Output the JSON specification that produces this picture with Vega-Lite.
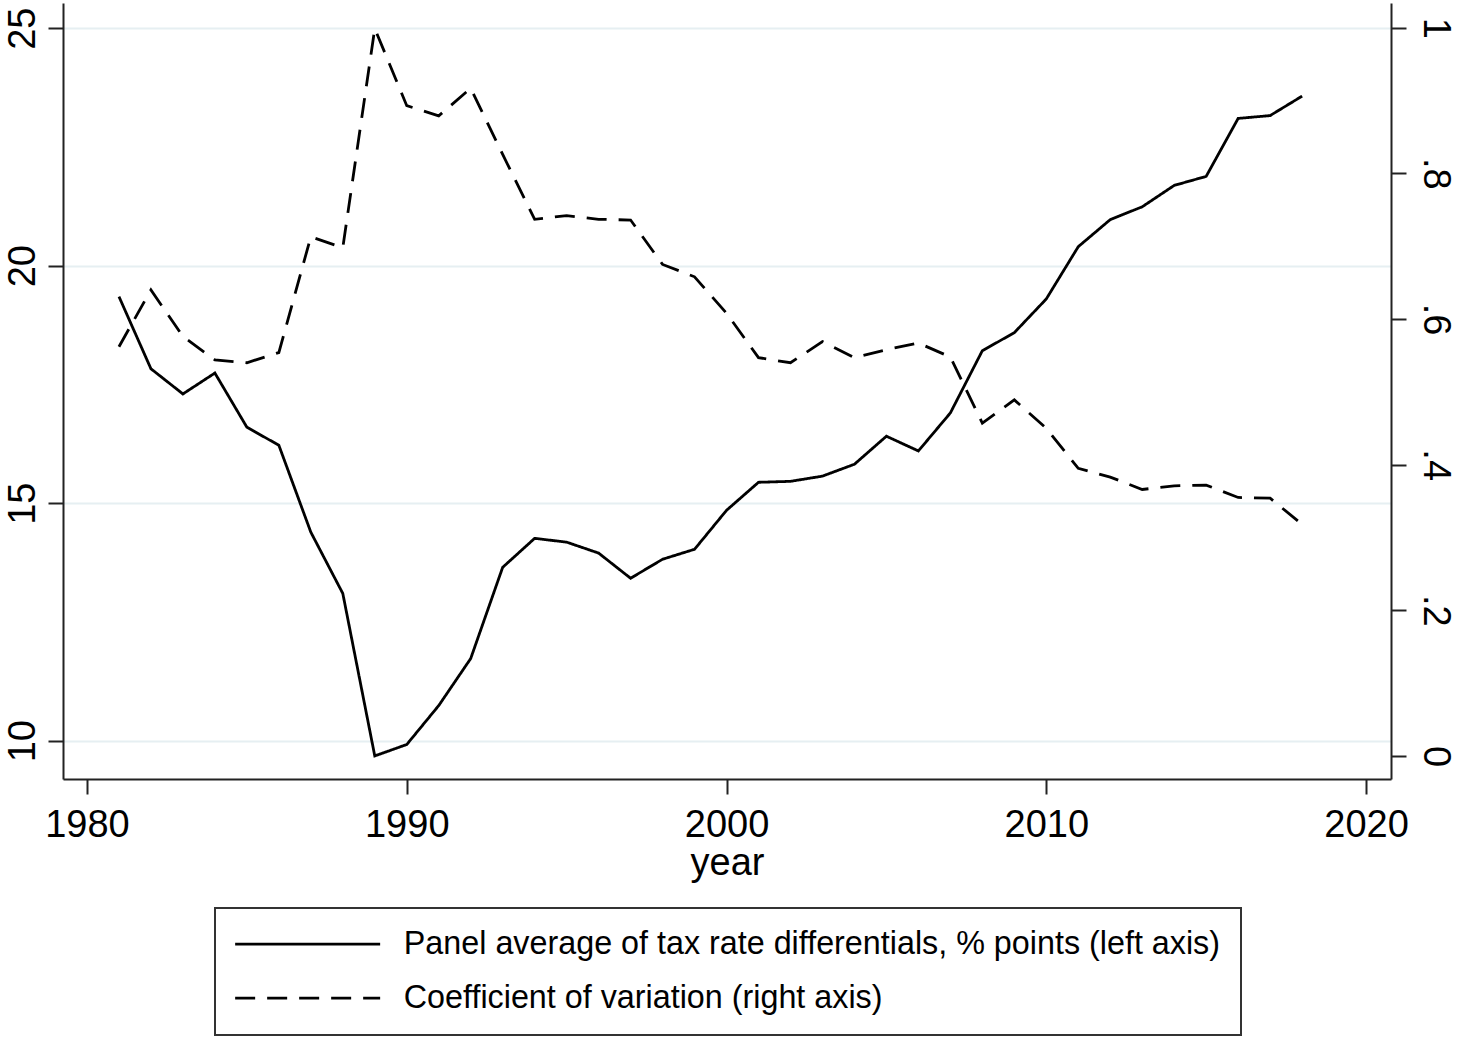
{
  "$schema": "https://vega.github.io/schema/vega-lite/v6.json",
  "width": 1328,
  "height": 776,
  "autosize": {"type": "none"},
  "padding": {"left": 63, "top": 3, "right": 67, "bottom": 259},
  "background": "white",
  "config": {
    "view": {"stroke": null},
    "font": "Liberation Sans",
    "axis": {
      "domainColor": "#222222",
      "domainWidth": 2,
      "tickColor": "#222222",
      "tickWidth": 2,
      "tickSize": 15,
      "labelColor": "black",
      "labelFontSize": 38,
      "labelFont": "Liberation Sans",
      "titleFont": "Liberation Sans",
      "titleFontWeight": "normal",
      "titleColor": "black"
    },
    "legend": {
      "strokeColor": "#333333",
      "strokeWidth": 2
    }
  },
  "data": {
    "values": [
      {"year": 1981, "series": "Panel average of tax rate differentials, % points (left axis)", "value": 19.35},
      {"year": 1982, "series": "Panel average of tax rate differentials, % points (left axis)", "value": 17.83},
      {"year": 1983, "series": "Panel average of tax rate differentials, % points (left axis)", "value": 17.30},
      {"year": 1984, "series": "Panel average of tax rate differentials, % points (left axis)", "value": 17.74},
      {"year": 1985, "series": "Panel average of tax rate differentials, % points (left axis)", "value": 16.60},
      {"year": 1986, "series": "Panel average of tax rate differentials, % points (left axis)", "value": 16.22},
      {"year": 1987, "series": "Panel average of tax rate differentials, % points (left axis)", "value": 14.39},
      {"year": 1988, "series": "Panel average of tax rate differentials, % points (left axis)", "value": 13.10},
      {"year": 1989, "series": "Panel average of tax rate differentials, % points (left axis)", "value": 9.68},
      {"year": 1990, "series": "Panel average of tax rate differentials, % points (left axis)", "value": 9.92},
      {"year": 1991, "series": "Panel average of tax rate differentials, % points (left axis)", "value": 10.74},
      {"year": 1992, "series": "Panel average of tax rate differentials, % points (left axis)", "value": 11.73},
      {"year": 1993, "series": "Panel average of tax rate differentials, % points (left axis)", "value": 13.65},
      {"year": 1994, "series": "Panel average of tax rate differentials, % points (left axis)", "value": 14.26},
      {"year": 1995, "series": "Panel average of tax rate differentials, % points (left axis)", "value": 14.18},
      {"year": 1996, "series": "Panel average of tax rate differentials, % points (left axis)", "value": 13.95},
      {"year": 1997, "series": "Panel average of tax rate differentials, % points (left axis)", "value": 13.42},
      {"year": 1998, "series": "Panel average of tax rate differentials, % points (left axis)", "value": 13.82},
      {"year": 1999, "series": "Panel average of tax rate differentials, % points (left axis)", "value": 14.03},
      {"year": 2000, "series": "Panel average of tax rate differentials, % points (left axis)", "value": 14.85},
      {"year": 2001, "series": "Panel average of tax rate differentials, % points (left axis)", "value": 15.44},
      {"year": 2002, "series": "Panel average of tax rate differentials, % points (left axis)", "value": 15.46},
      {"year": 2003, "series": "Panel average of tax rate differentials, % points (left axis)", "value": 15.57},
      {"year": 2004, "series": "Panel average of tax rate differentials, % points (left axis)", "value": 15.82},
      {"year": 2005, "series": "Panel average of tax rate differentials, % points (left axis)", "value": 16.41},
      {"year": 2006, "series": "Panel average of tax rate differentials, % points (left axis)", "value": 16.10},
      {"year": 2007, "series": "Panel average of tax rate differentials, % points (left axis)", "value": 16.90},
      {"year": 2008, "series": "Panel average of tax rate differentials, % points (left axis)", "value": 18.21},
      {"year": 2009, "series": "Panel average of tax rate differentials, % points (left axis)", "value": 18.59},
      {"year": 2010, "series": "Panel average of tax rate differentials, % points (left axis)", "value": 19.30},
      {"year": 2011, "series": "Panel average of tax rate differentials, % points (left axis)", "value": 20.40},
      {"year": 2012, "series": "Panel average of tax rate differentials, % points (left axis)", "value": 20.97},
      {"year": 2013, "series": "Panel average of tax rate differentials, % points (left axis)", "value": 21.24},
      {"year": 2014, "series": "Panel average of tax rate differentials, % points (left axis)", "value": 21.69},
      {"year": 2015, "series": "Panel average of tax rate differentials, % points (left axis)", "value": 21.88},
      {"year": 2016, "series": "Panel average of tax rate differentials, % points (left axis)", "value": 23.10},
      {"year": 2017, "series": "Panel average of tax rate differentials, % points (left axis)", "value": 23.16},
      {"year": 2018, "series": "Panel average of tax rate differentials, % points (left axis)", "value": 23.57},
      {"year": 1981, "series": "Coefficient of variation (right axis)", "value": 0.562},
      {"year": 1982, "series": "Coefficient of variation (right axis)", "value": 0.640},
      {"year": 1983, "series": "Coefficient of variation (right axis)", "value": 0.576},
      {"year": 1984, "series": "Coefficient of variation (right axis)", "value": 0.544},
      {"year": 1985, "series": "Coefficient of variation (right axis)", "value": 0.540},
      {"year": 1986, "series": "Coefficient of variation (right axis)", "value": 0.554},
      {"year": 1987, "series": "Coefficient of variation (right axis)", "value": 0.713},
      {"year": 1988, "series": "Coefficient of variation (right axis)", "value": 0.698},
      {"year": 1989, "series": "Coefficient of variation (right axis)", "value": 0.999},
      {"year": 1990, "series": "Coefficient of variation (right axis)", "value": 0.893},
      {"year": 1991, "series": "Coefficient of variation (right axis)", "value": 0.879},
      {"year": 1992, "series": "Coefficient of variation (right axis)", "value": 0.917},
      {"year": 1993, "series": "Coefficient of variation (right axis)", "value": 0.826},
      {"year": 1994, "series": "Coefficient of variation (right axis)", "value": 0.737},
      {"year": 1995, "series": "Coefficient of variation (right axis)", "value": 0.742},
      {"year": 1996, "series": "Coefficient of variation (right axis)", "value": 0.737},
      {"year": 1997, "series": "Coefficient of variation (right axis)", "value": 0.736},
      {"year": 1998, "series": "Coefficient of variation (right axis)", "value": 0.675},
      {"year": 1999, "series": "Coefficient of variation (right axis)", "value": 0.658},
      {"year": 2000, "series": "Coefficient of variation (right axis)", "value": 0.608},
      {"year": 2001, "series": "Coefficient of variation (right axis)", "value": 0.547},
      {"year": 2002, "series": "Coefficient of variation (right axis)", "value": 0.540},
      {"year": 2003, "series": "Coefficient of variation (right axis)", "value": 0.569},
      {"year": 2004, "series": "Coefficient of variation (right axis)", "value": 0.547},
      {"year": 2005, "series": "Coefficient of variation (right axis)", "value": 0.558},
      {"year": 2006, "series": "Coefficient of variation (right axis)", "value": 0.567},
      {"year": 2007, "series": "Coefficient of variation (right axis)", "value": 0.548},
      {"year": 2008, "series": "Coefficient of variation (right axis)", "value": 0.457},
      {"year": 2009, "series": "Coefficient of variation (right axis)", "value": 0.489},
      {"year": 2010, "series": "Coefficient of variation (right axis)", "value": 0.450},
      {"year": 2011, "series": "Coefficient of variation (right axis)", "value": 0.395},
      {"year": 2012, "series": "Coefficient of variation (right axis)", "value": 0.383},
      {"year": 2013, "series": "Coefficient of variation (right axis)", "value": 0.366},
      {"year": 2014, "series": "Coefficient of variation (right axis)", "value": 0.371},
      {"year": 2015, "series": "Coefficient of variation (right axis)", "value": 0.372},
      {"year": 2016, "series": "Coefficient of variation (right axis)", "value": 0.355},
      {"year": 2017, "series": "Coefficient of variation (right axis)", "value": 0.354},
      {"year": 2018, "series": "Coefficient of variation (right axis)", "value": 0.318}
    ]
  },
  "encoding": {
    "x": {
      "field": "year",
      "type": "quantitative",
      "scale": {"domain": [1979.25, 2020.78], "nice": false, "zero": false},
      "axis": {
        "values": [1980, 1990, 2000, 2010, 2020],
        "format": "d",
        "grid": false,
        "labelPadding": 12,
        "title": "year",
        "titleFontSize": 38,
        "titlePadding": 0
      }
    },
    "strokeDash": {
      "field": "series",
      "type": "nominal",
      "scale": {
        "domain": ["Panel average of tax rate differentials, % points (left axis)", "Coefficient of variation (right axis)"],
        "range": [[1, 0], [20, 12]]
      },
      "legend": {
        "title": null,
        "orient": "none",
        "legendX": 152,
        "legendY": 905,
        "direction": "vertical",
        "symbolType": "M-5,0L5,0",
        "symbolSize": 841,
        "symbolStrokeWidth": 2.8,
        "symbolStrokeColor": "black",
        "symbolFillColor": "transparent",
        "symbolOffset": 56.5,
        "labelFontSize": 32.3,
        "labelColor": "black",
        "labelLimit": 1200,
        "labelOffset": 80,
        "padding": 20,
        "rowPadding": 21
      }
    }
  },
  "layer": [
    {
      "transform": [{"filter": "datum.series == 'Panel average of tax rate differentials, % points (left axis)'"}],
      "mark": {"type": "line", "color": "black", "strokeWidth": 2.8},
      "encoding": {
        "y": {
          "field": "value",
          "type": "quantitative",
          "scale": {"domain": [9.194, 25.53], "nice": false, "zero": false},
          "axis": {
            "orient": "left",
            "values": [10, 15, 20, 25],
            "title": null,
            "grid": true,
            "gridColor": "#E6EFF2",
            "gridWidth": 2,
            "labelAngle": 270,
            "labelAlign": "center",
            "labelBaseline": "alphabetic",
            "labelPadding": 14
          }
        }
      }
    },
    {
      "transform": [{"filter": "datum.series == 'Coefficient of variation (right axis)'"}],
      "mark": {"type": "line", "color": "black", "strokeWidth": 2.8},
      "encoding": {
        "y": {
          "field": "value",
          "type": "quantitative",
          "scale": {"domain": [-0.0316, 1.034], "nice": false, "zero": false},
          "axis": {
            "orient": "right",
            "values": [0, 0.2, 0.4, 0.6, 0.8, 1],
            "labelExpr": "datum.value == 0 ? '0' : datum.value == 1 ? '1' : replace(format(datum.value, '.1f'), '0.', '.')",
            "title": null,
            "grid": false,
            "labelAngle": 90,
            "labelAlign": "center",
            "labelBaseline": "alphabetic",
            "labelPadding": 17
          }
        }
      }
    }
  ],
  "resolve": {"scale": {"y": "independent"}}
}
